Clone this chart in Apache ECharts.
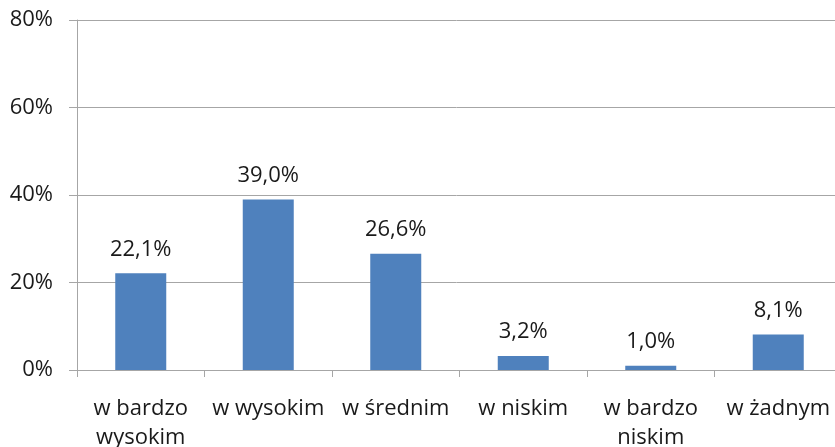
<!DOCTYPE html>
<html>
<head>
<meta charset="utf-8">
<script src="https://cdn.jsdelivr.net/npm/echarts@6/dist/echarts.min.js"></script>
<style>
  html, body { margin: 0; padding: 0; background: #fff; }
  #chart { width: 835px; height: 447px; }
</style>
</head>
<body>
<div id="chart"></div>
<script>
var categories = ['w bardzo\nwysokim', 'w wysokim', 'w średnim', 'w niskim', 'w bardzo\nniskim', 'w żadnym'];
var values = [22.1, 39.0, 26.6, 3.2, 1.0, 8.1];
var yTicks = [0, 20, 40, 60, 80];

var chart = echarts.init(document.getElementById('chart'));
var font = '"Open Sans", sans-serif';

option = {
    animation: false,
    grid: {
        left: 77,
        right: -7,
        top: 20,
        bottom: 77,
        outerBoundsMode: 'none'
    },
    xAxis: {
        type: 'category',
        data: categories,
        axisLine: { lineStyle: { color: '#A6A6A6', width: 1 } },
        axisTick: { show: true, length: 7, alignWithLabel: false, lineStyle: { color: '#A6A6A6' } },
        axisLabel: {
            color: '#1a1a1a',
            fontSize: 22,
            fontFamily: font,
            lineHeight: 29,
            margin: 24,
            interval: 0
        }
    },
    yAxis: {
        type: 'value',
        min: yTicks[0],
        max: yTicks[yTicks.length - 1],
        interval: 20,
        axisLine: { show: true, lineStyle: { color: '#A6A6A6', width: 1 } },
        axisTick: { show: true, length: 8, lineStyle: { color: '#A6A6A6' } },
        splitLine: { show: true, lineStyle: { color: '#A6A6A6', width: 1 } },
        axisLabel: {
            color: '#1a1a1a',
            fontSize: 22,
            fontFamily: font,
            margin: 24,
            formatter: '{value}%'
        }
    },
    series: [
        {
            type: 'bar',
            data: values,
            barWidth: '40%',
            itemStyle: { color: '#4F81BD' },
            label: {
                show: true,
                position: 'top',
                distance: 13,
                color: '#1a1a1a',
                fontSize: 22,
                fontFamily: font,
                formatter: function (p) {
                    return p.value.toFixed(1).replace('.', ',') + '%';
                }
            }
        }
    ]
};
chart.setOption(option);
</script>
</body>
</html>
